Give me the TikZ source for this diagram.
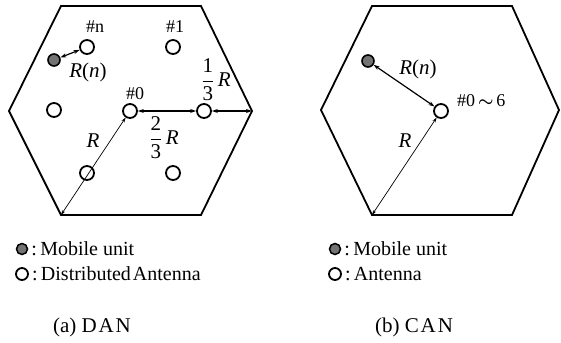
\documentclass[tikz,border=0pt]{standalone}
\usepackage{amsmath,amssymb}
\usepackage{fontspec}
\setmainfont{Liberation Serif}
\usetikzlibrary{arrows.meta,positioning}
\newcommand{\itx}[1]{\textit{#1}}
\newcommand{\fracR}[2]{$\dfrac{\textrm{#1}}{\textrm{#2}}$\,\itx{R}}
\newcommand{\spaced}[1]{{\addfontfeature{LetterSpace=9}#1}}
\tikzset{
  hexcell/.style={line width=1.8pt, line join=miter},
  antenna/.style={circle, draw=black, fill=white, line width=1.8pt,
                  minimum size=14pt, inner sep=0pt},
  mobile/.style={circle, draw=black, fill=black!55, line width=1.6pt,
                 minimum size=12pt, inner sep=0pt},
  dist/.style={{Stealth[length=5pt,width=3.2pt]}-{Stealth[length=5pt,width=3.2pt]},
               line width=0.7pt},
  distbold/.style={{Stealth[length=6pt,width=4pt]}-{Stealth[length=6pt,width=4pt]},
               line width=1.2pt},
  lab/.style={font=\fontsize{18}{18}\selectfont, inner sep=0pt},
  mlab/.style={font=\fontsize{21}{21}\selectfont, inner sep=0pt},
  legtext/.style={font=\fontsize{20}{20}\selectfont, anchor=west, inner sep=0pt},
  caption/.style={font=\fontsize{21}{21}\selectfont, inner sep=0pt},
}
\begin{document}
\begin{tikzpicture}[x=1pt, y=-1pt]
  \useasboundingbox (0,0) rectangle (561,342);

  % --- (a) distributed antenna network -----------------------------------
  \coordinate (ha1) at (61,6);   \coordinate (ha2) at (201,6);
  \coordinate (ha3) at (252,111); \coordinate (ha4) at (201,215);
  \coordinate (ha5) at (61,215); \coordinate (ha6) at (9,111);
  \draw[hexcell] (ha1) -- (ha2) -- (ha3) -- (ha4) -- (ha5) -- (ha6) -- cycle;

  \node[antenna] (a0) at (130,111) {};
  \node[antenna] (a1) at (173,47) {};
  \node[antenna] (an) at (87,47) {};
  \node[antenna] (a3) at (54,110) {};
  \node[antenna] (a4) at (87,173) {};
  \node[antenna] (a5) at (173,173) {};
  \node[antenna] (a6) at (204,111) {};
  \node[mobile]  (ma) at (54,60) {};

  \draw[distbold] (ma) -- (an);
  \draw[dist] (ha5) -- (a0);
  \draw[distbold] (a0) -- (a6);
  \draw[distbold] (a6) -- (ha3);

  \node[lab] (tn) at (95,27) {\#n};
  \node[lab] (t1) at (175,27) {\#1};
  \node[lab] (t0) at (135,94) {\#0};
  \node[mlab] (rna) at (88,72) {\itx{R}(\itx{n})};
  \node[mlab] (thirdR) at (216,80) {\fracR{1}{3}};
  \node[mlab] (twothirdR) at (164,138) {\fracR{2}{3}};
  \node[mlab] (ra) at (93,141) {\itx{R}};

  % --- (b) co-located antenna network ------------------------------------
  \coordinate (hb1) at (372,6);   \coordinate (hb2) at (512,6);
  \coordinate (hb3) at (559,110); \coordinate (hb4) at (512,215);
  \coordinate (hb5) at (372,215); \coordinate (hb6) at (321,110);
  \draw[hexcell] (hb1) -- (hb2) -- (hb3) -- (hb4) -- (hb5) -- (hb6) -- cycle;

  \node[antenna] (b0) at (441,111) {};
  \node[mobile]  (mb) at (368,61) {};

  \draw[distbold] (mb) -- (b0);
  \draw[dist] (hb5) -- (b0);

  \node[lab, anchor=west] (tb0) at (457,101) {\#0$\,\boldsymbol{\sim}\,$6};
  \node[mlab] (rnb) at (418,69) {\itx{R}(\itx{n})};
  \node[mlab] (rb) at (405,141) {\itx{R}};

  % --- legends -------------------------------------------------------------
  \node[mobile, minimum size=11pt, line width=1.5pt] (lma) at (22,249) {};
  \node[legtext, right=3pt of lma] (lmat) {:\,Mobile unit};
  \node[antenna, minimum size=12pt, line width=1.8pt] (laa) at (22,274) {};
  \node[legtext, right=3pt of laa] (laat) {:\,Distributed\hspace{0.1em}Antenna};

  \node[mobile, minimum size=11pt, line width=1.5pt] (lmb) at (335,249) {};
  \node[legtext, right=3pt of lmb] (lmbt) {:\,Mobile unit};
  \node[antenna, minimum size=12pt, line width=1.8pt] (lab) at (335,274) {};
  \node[legtext, right=3pt of lab] (labt) {:\,Antenna};

  % --- captions ------------------------------------------------------------
  \node[caption] (capa) at (92,327) {(a)\ \spaced{DAN}};
  \node[caption] (capb) at (414,327) {(b)\ \spaced{CAN}};
\end{tikzpicture}
\end{document}
